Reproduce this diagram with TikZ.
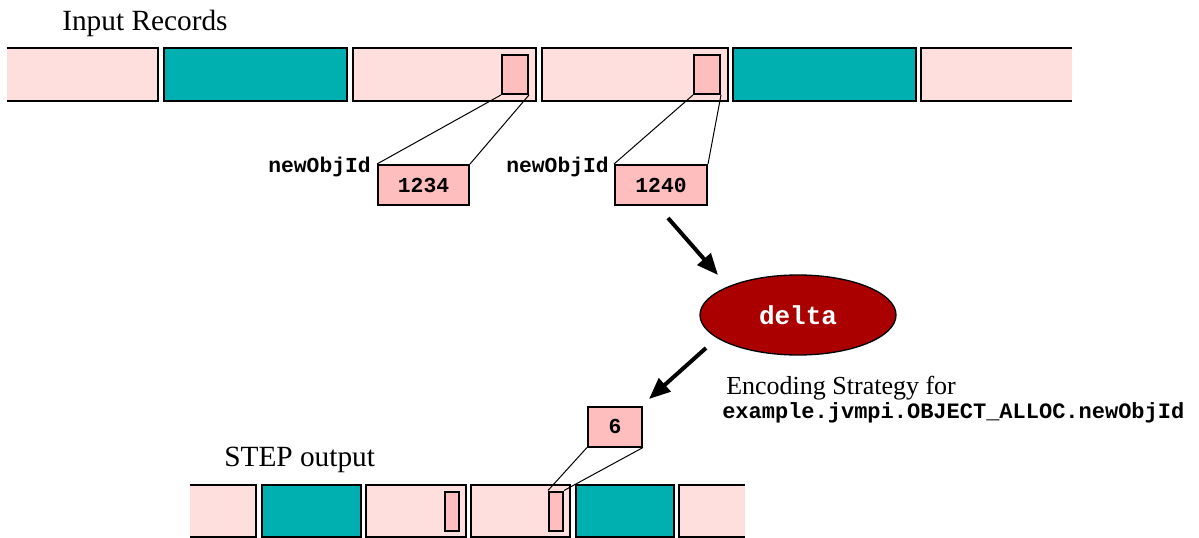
\documentclass[tikz,border=0pt]{standalone}
\usepackage{fontspec}
\setmainfont{Liberation Serif}
\newfontfamily\codefont{Liberation Mono}
\usetikzlibrary{arrows.meta,shapes.geometric}
\definecolor{lightpink}{RGB}{255,222,222}
\definecolor{fieldpink}{RGB}{255,190,190}
\definecolor{tealc}{RGB}{0,175,175}
\definecolor{darkred}{RGB}{170,0,0}
\tikzset{
  recbox/.style={draw=black, line width=1.5pt, fill=lightpink, inner sep=0pt, minimum height=39.75pt},
  openbox/.style={fill=lightpink, inner sep=0pt, minimum height=39.75pt},
  tealbox/.style={draw=black, line width=1.5pt, fill=tealc, inner sep=0pt, minimum height=39.75pt},
  fieldbox/.style={draw=black, line width=1.5pt, fill=fieldpink, inner sep=0pt},
  valbox/.style={draw=black, line width=1.5pt, fill=fieldpink, inner sep=0pt, minimum height=30pt,
     font=\codefont\bfseries\fontsize{16pt}{19pt}\selectfont},
  edgeline/.style={draw=black, line width=1.5pt},
  thinline/.style={draw=black, line width=0.75pt},
  bigarrow/.style={draw=black, line width=3pt, -{Triangle[length=16pt,width=13pt]}},
  codelabel/.style={inner sep=0pt, font=\codefont\bfseries\fontsize{16pt}{19pt}\selectfont},
  titletext/.style={inner sep=0pt, font=\fontsize{22pt}{26pt}\selectfont},
}
\begin{document}
\begin{tikzpicture}[x=0.75pt,y=-0.75pt]
\useasboundingbox (0,0) rectangle (1199,538);

% ---------- titles ----------
\node[titletext, anchor=base west] (tin) at (62,31) {Input Records};
\node[titletext, anchor=base west] (tout) at (224,466) {STEP output};

% ---------- top bar ----------
\node[openbox, minimum width=113.25pt] (t1) at (82.5,74.5) {};
\draw[edgeline] (t1.north west) -- (t1.north east) -- (t1.south east) -- (t1.south west);
\node[tealbox, minimum width=137.625pt] (t2) at (255.25,74.5) {};
\node[recbox, minimum width=137.25pt] (t3) at (444.5,74.5) {};
\node[recbox, minimum width=139.5pt] (t4) at (635,74.5) {};
\node[tealbox, minimum width=137.25pt] (t5) at (824.5,74.5) {};
\node[openbox, minimum width=113.25pt] (t6) at (996.5,74.5) {};
\draw[edgeline] (t6.north east) -- (t6.north west) -- (t6.south west) -- (t6.south east);

\node[fieldbox, minimum width=19.5pt, minimum height=29.6pt] (s1) at (515,74.25) {};
\node[fieldbox, minimum width=19.5pt, minimum height=29.6pt] (s2) at (707,74.25) {};

% ---------- value boxes ----------
\node[valbox, minimum width=68.25pt] (v1) at (423.5,185) {1234};
\node[valbox, minimum width=69pt] (v2) at (661,185) {1240};
\node[codelabel, anchor=base east] (l1) at (371,173) {newObjId};
\node[codelabel, anchor=base east] (l2) at (609,173) {newObjId};

\draw[thinline] (s1.south west) -- (v1.north west);
\draw[thinline] (s1.south east) -- (v1.north east);
\draw[thinline] (s2.south west) -- (v2.north west);
\draw[thinline] (s2.south east) -- (v2.north east);

% ---------- delta ----------
\node[ellipse, draw=black, line width=1pt, fill=darkred, inner sep=0pt,
      minimum width=147pt, minimum height=60pt,
      text=white, font=\codefont\bfseries\fontsize{19.5pt}{23pt}\selectfont] (delta) at (798,315) {delta};

\coordinate (a1s) at (668,218);
\coordinate (a1e) at (718,275);
\draw[bigarrow] (a1s) -- (a1e);

\coordinate (a2s) at (706,348);
\coordinate (a2e) at (649,399);
\draw[bigarrow] (a2s) -- (a2e);

\node[inner sep=0pt, anchor=base west, font=\fontsize{19.5pt}{23pt}\selectfont] (enc1) at (726,394) {Encoding Strategy for};
\node[inner sep=0pt, anchor=base west, font=\codefont\bfseries\fontsize{16.5pt}{19pt}\selectfont] (enc2) at (722,418) {example.jvmpi.OBJECT\_ALLOC.newObjId};

% ---------- encoded value ----------
\node[valbox, minimum width=40.5pt] (v3) at (615,426.5) {6};

% ---------- bottom bar ----------
\node[openbox, minimum height=39pt, minimum width=49.5pt] (b1) at (223,511) {};
\draw[edgeline] (b1.north west) -- (b1.north east) -- (b1.south east) -- (b1.south west);
\node[tealbox, minimum height=39pt, minimum width=74.25pt] (b2) at (311.5,511) {};
\node[recbox, minimum height=39pt, minimum width=74.625pt] (b3) at (415.75,511) {};
\node[recbox, minimum height=39pt, minimum width=73.875pt] (b4) at (520.25,511) {};
\node[tealbox, minimum height=39pt, minimum width=73.875pt] (b5) at (624.75,511) {};
\node[openbox, minimum height=39pt, minimum width=49.125pt] (b6) at (712.25,511) {};
\draw[edgeline] (b6.north east) -- (b6.north west) -- (b6.south west) -- (b6.south east);

\node[fieldbox, minimum width=10.5pt, minimum height=29.625pt] (bs1) at (452,511.25) {};
\node[fieldbox, minimum width=10.5pt, minimum height=29.625pt] (bs2) at (556,511.25) {};

\draw[thinline] (v3.south west) -- (bs2.north west);
\draw[thinline] (v3.south east) -- (bs2.north east);
\end{tikzpicture}
\end{document}
